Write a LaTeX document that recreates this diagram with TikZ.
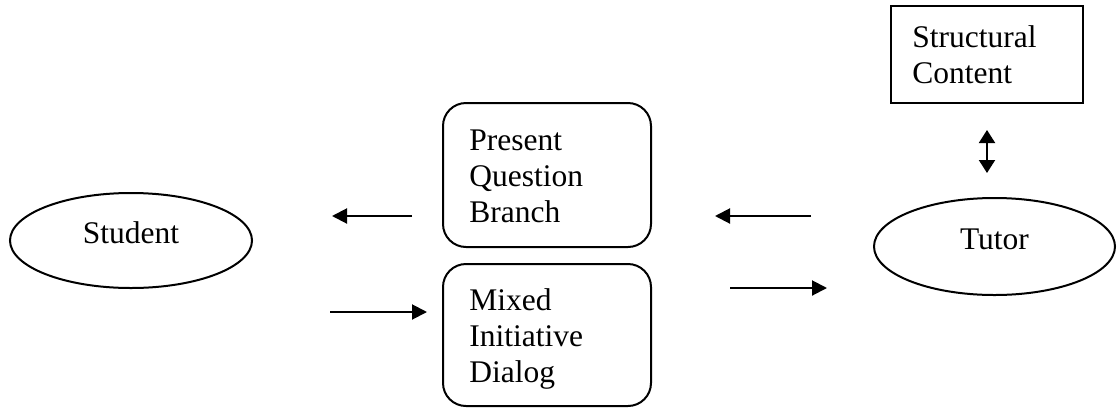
\documentclass[tikz,border=0pt]{standalone}
\usepackage{fontspec}
\setmainfont{Liberation Serif}
\usetikzlibrary{shapes.geometric,arrows.meta}
\begin{document}
\begin{tikzpicture}[x=0.5pt,y=-0.5pt,
  every node/.style={font=\fontsize{15.75pt}{18pt}\selectfont},
  oval/.style={draw,line width=1pt,ellipse,inner sep=0pt,
    text height=10.8pt,text depth=7.8pt},
  roundbox/.style={draw,line width=1pt,rectangle,rounded corners=11.5pt,inner sep=0pt},
  plainbox/.style={draw,line width=1pt,rectangle,inner sep=0pt},
  boxtext/.style={anchor=base west,inner sep=0pt,align=left},
  flow/.style={line width=1pt,-{Triangle[length=7.5pt,width=7.5pt]}},
  twoway/.style={line width=1pt,{Triangle[length=6.5pt,width=8pt]}-{Triangle[length=6.5pt,width=8pt]}}]
\useasboundingbox (0,0) rectangle (1120,408);

% actors
\node[oval,minimum width=121pt,minimum height=47.5pt] (student) at (131,240.5) {Student};
\node[oval,minimum width=120.5pt,minimum height=48.5pt] (tutor) at (994.5,246.5) {Tutor};

% content store (text anchored on the baseline of its last line)
\node[plainbox,minimum width=96pt,minimum height=48.5pt] (content) at (987,54.5) {};
\node[boxtext] (contenttext) at (912,83) {Structural\\Content};

% dialogue modes
\node[roundbox,minimum width=104pt,minimum height=72pt] (present) at (547,175) {};
\node[boxtext] (presenttext) at (469,222) {Present\\Question\\Branch};
\node[roundbox,minimum width=104pt,minimum height=71pt] (mixed) at (547,335) {};
\node[boxtext] (mixedtext) at (469,382) {Mixed\\Initiative\\Dialog};

% arrow end points in the gaps between the shapes
\coordinate (ps) at (412,216);
\coordinate (sp) at (332,216);
\coordinate (sm) at (330,312);
\coordinate (ms) at (427,312);
\coordinate (tp) at (811,216);
\coordinate (pt) at (715,216);
\coordinate (mt) at (730,288);
\coordinate (tm) at (827,288);
\coordinate (ct) at (987,130);
\coordinate (tc) at (987,173);

\draw[flow] (ps) -- (sp);
\draw[flow] (sm) -- (ms);
\draw[flow] (tp) -- (pt);
\draw[flow] (mt) -- (tm);
\draw[twoway] (ct) -- (tc);
\end{tikzpicture}
\end{document}
